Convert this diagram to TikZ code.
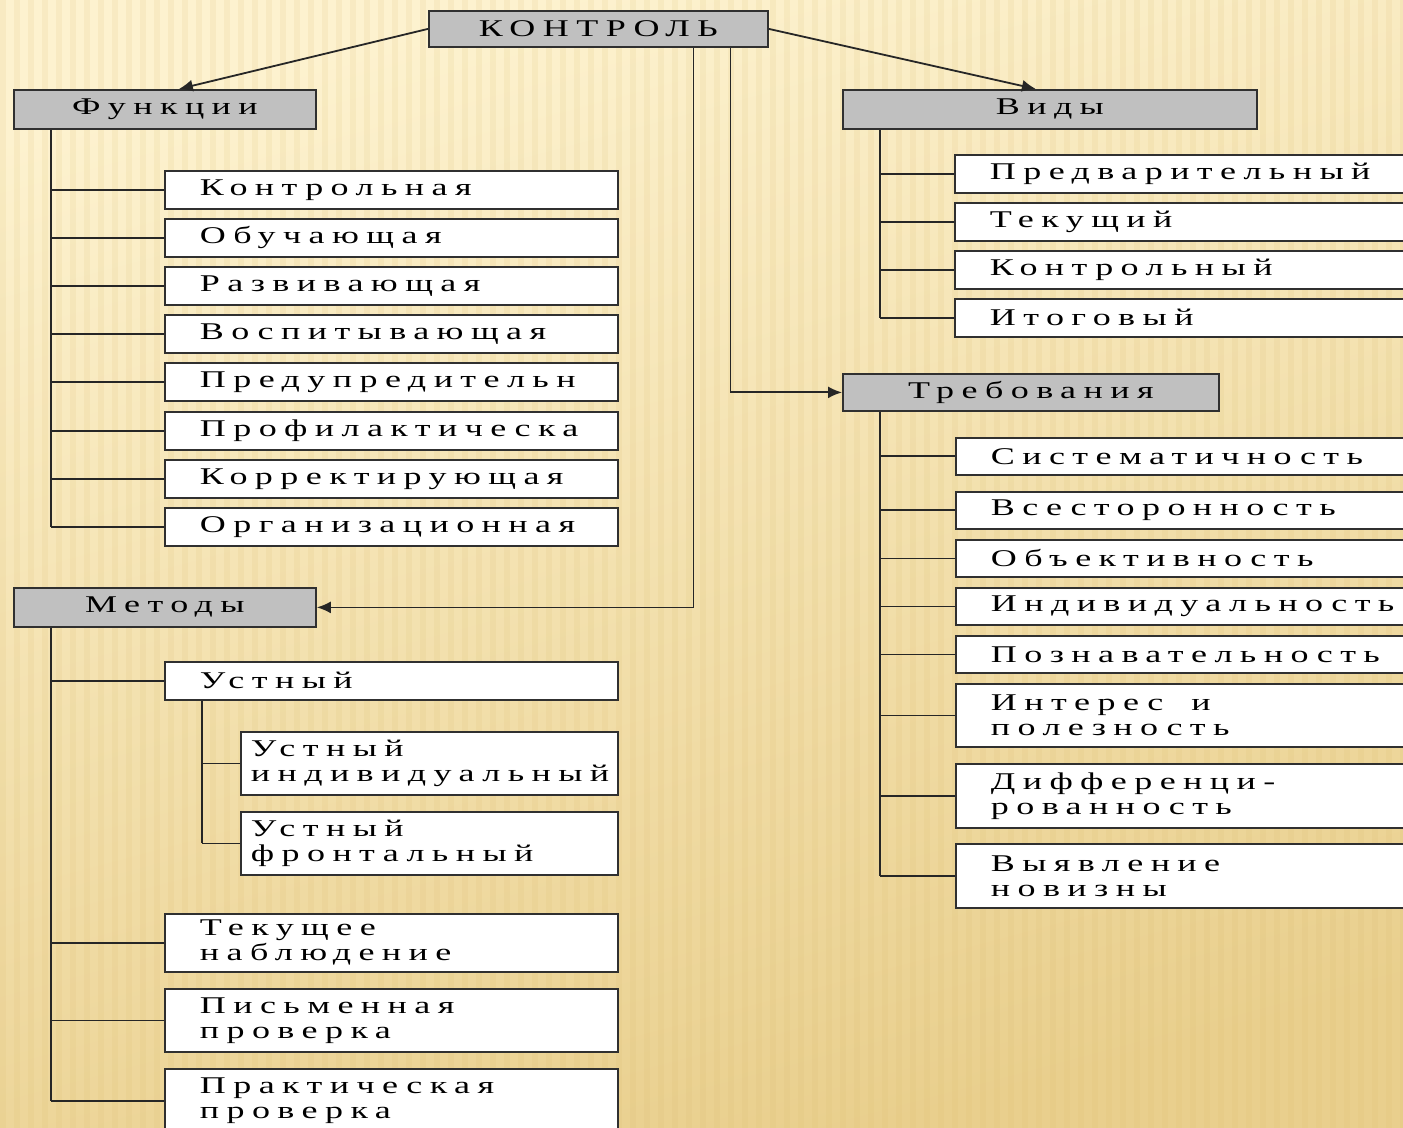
\documentclass[tikz,border=0pt]{standalone}
\usepackage{fontspec}
\setmainfont{Liberation Serif}[FakeStretch=1.5,LetterSpace=31]
\usetikzlibrary{arrows.meta,calc}
\definecolor{bgA}{HTML}{FDF2CF}
\definecolor{bgB}{HTML}{E9CF8D}
\definecolor{stripe}{HTML}{D9B868}
\definecolor{hdr}{HTML}{C0C0C0}
\definecolor{edge}{HTML}{303030}
\begin{document}
\begin{tikzpicture}[x=0.5pt,y=-0.5pt,
  font=\fontsize{12}{12.5}\selectfont,
  hbox/.style={draw=edge,line width=0.9pt,fill=hdr,minimum height=19.5pt,inner sep=0pt,anchor=north west},
  cbox/.style={draw=edge,line width=0.9pt,fill=white,anchor=north west,align=left,inner ysep=0pt,inner xsep=17.5pt},
  fch/.style={cbox,text width=191.5pt,minimum height=19pt},
  rch/.style={cbox,text width=200pt,minimum height=19pt},
  conn/.style={line width=0.9pt,draw=black!85},
  arr/.style={conn,-{Latex[length=7pt,width=6pt]}}]
\useasboundingbox (0,0) rectangle (1403,1128);
\begin{scope}
\clip (0,0) rectangle (1403,1128);
\shade[top color=bgA,bottom color=bgB,shading angle=15] (0,0) rectangle (1403,1128);
\foreach \i in {0,14,...,1400} \fill[stripe,opacity=0.12] (\i,0) rectangle ++(6,1128);

% headers
\node[hbox,minimum width=169.5pt,minimum height=18pt] (kontrol) at (428,10) {КОНТРОЛЬ};
\node[hbox,minimum width=151pt] (funk) at (13,89) {Функции};
\node[hbox,minimum width=207pt] (vidy) at (842,89) {Виды};
\node[hbox,minimum width=188pt,minimum height=18.5pt] (treb) at (842,373) {Требования};
\node[hbox,minimum width=151pt] (metody) at (13,587) {Методы};

% functions
\node[fch] (f1) at (164,170) {Контрольная};
\node[fch] (f2) at (164,218) {Обучающая};
\node[fch] (f3) at (164,266) {Развивающая};
\node[fch] (f4) at (164,314) {Воспитывающая};
\node[fch] (f5) at (164,362) {Предупредительн};
\node[fch] (f6) at (164,411) {Профилактическа};
\node[fch] (f7) at (164,459) {Корректирующая};
\node[fch] (f8) at (164,507) {Организационная};

% kinds
\node[rch] (v1) at (954,154) {Предварительный};
\node[rch] (v2) at (954,202) {Текущий};
\node[rch] (v3) at (954,250) {Контрольный};
\node[rch] (v4) at (954,298) {Итоговый};

% requirements
\node[rch,minimum height=18.5pt] (t1) at (955,437) {Систематичность};
\node[rch,minimum height=18.5pt] (t2) at (955,491) {Всесторонность};
\node[rch,minimum height=18.5pt] (t3) at (955,539) {Объективность};
\node[rch,minimum height=18.5pt] (t4) at (955,587) {Индивидуальность};
\node[rch,minimum height=18.5pt] (t5) at (955,635) {Познавательность};
\node[rch,minimum height=31.5pt] (t6) at (955,683) {Интерес\hspace{14pt}и\\полезность};
\node[rch,minimum height=32pt] (t7) at (955,763) {Дифференци-\\рованность};
\node[rch,minimum height=32pt] (t8) at (955,843) {Выявление\\новизны};

% methods
\node[fch] (m1) at (164,661) {Устный};
\node[cbox,inner xsep=5pt,text width=178.5pt,minimum height=31.5pt] (m11) at (240,731) {Устный\\индивидуальный};
\node[cbox,inner xsep=5pt,text width=178.5pt,minimum height=31.5pt] (m12) at (240,811) {Устный\\фронтальный};
\node[fch,minimum height=29pt] (m2) at (164,913) {Текущее\\наблюдение};
\node[fch,minimum height=31.5pt] (m3) at (164,988) {Письменная\\проверка};
\node[fch,minimum height=32pt] (m4) at (164,1068) {Практическая\\проверка};

% main connectors
\draw[arr] (kontrol.west) -- ($(funk.north)+(14,0)$);
\draw[arr] (kontrol.east) -- ($(vidy.north)+(-14,0)$);
\draw[arr] ($(kontrol.south)+(95,0)$) |- (metody.east);
\draw[arr] ($(kontrol.south)+(132,0)$) |- (treb.west);

% trunks
\coordinate (ft) at ($(funk.south west)+(38,0)$);
\draw[conn] (ft) -- (ft |- f8.west);
\foreach \c in {f1,f2,f3,f4,f5,f6,f7,f8} \draw[conn] (ft |- \c.west) -- (\c.west);

\coordinate (vt) at ($(vidy.south west)+(38,0)$);
\draw[conn] (vt) -- (vt |- v4.west);
\foreach \c in {v1,v2,v3,v4} \draw[conn] (vt |- \c.west) -- (\c.west);

\coordinate (tt) at ($(treb.south west)+(38,0)$);
\draw[conn] (tt) -- (tt |- t8.west);
\foreach \c in {t1,t2,t3,t4,t5,t6,t7,t8} \draw[conn] (tt |- \c.west) -- (\c.west);

\coordinate (mt) at ($(metody.south west)+(38,0)$);
\draw[conn] (mt) -- (mt |- m4.west);
\foreach \c in {m1,m2,m3,m4} \draw[conn] (mt |- \c.west) -- (\c.west);

\coordinate (ut) at ($(m1.south west)+(38,0)$);
\draw[conn] (ut) -- (ut |- m12.west);
\foreach \c in {m11,m12} \draw[conn] (ut |- \c.west) -- (\c.west);
\end{scope}
\end{tikzpicture}
\end{document}
